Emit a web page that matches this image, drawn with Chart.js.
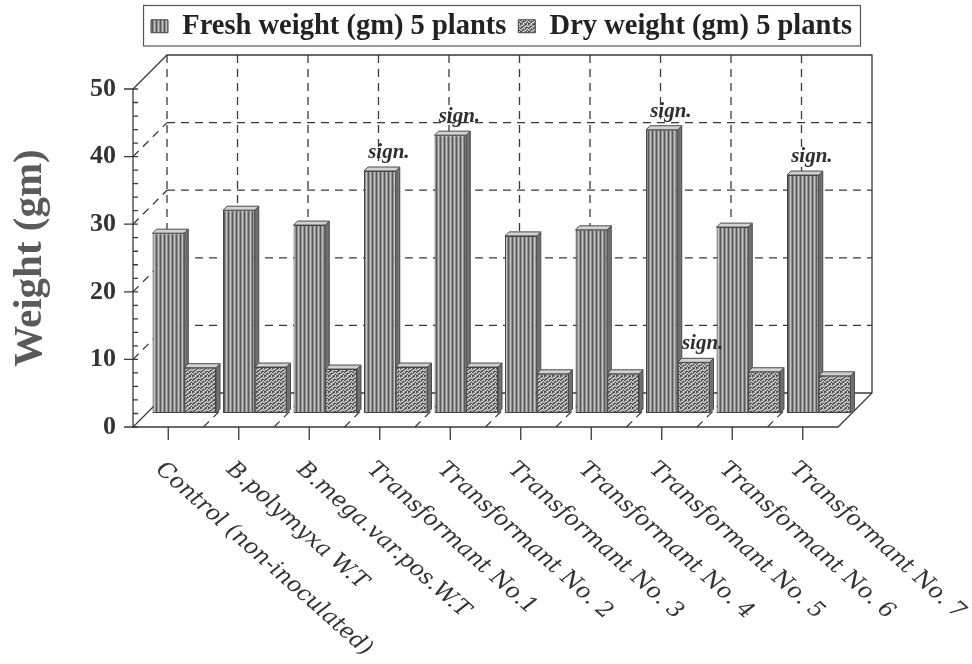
<!DOCTYPE html>
<html>
<head>
<meta charset="utf-8">
<script src="https://cdn.jsdelivr.net/npm/chart.js@4.4.1/dist/chart.umd.min.js"></script>
<style>
  html, body { margin: 0; padding: 0; background: #fff; }
  #wrap { width: 972px; height: 664px; }
</style>
</head>
<body>
<div id="wrap"><canvas id="c" width="972" height="664"></canvas></div>
<script>
// ---- data ----
const categories = [
  'Control (non-inoculated)', 'B.polymyxa W.T', 'B.mega.var.pos.W.T',
  'Transformant No.1', 'Transformant No. 2', 'Transformant No. 3',
  'Transformant No. 4', 'Transformant No. 5', 'Transformant No. 6',
  'Transformant No. 7'
];
const freshWeight = [26.6, 30.0, 27.8, 35.8, 41.1, 26.2, 27.1, 41.9, 27.5, 35.2];
const dryWeight   = [6.7, 6.8, 6.5, 6.8, 6.8, 5.8, 5.8, 7.5, 6.1, 5.5];
const freshSignificant = [false, false, false, true, true, false, false, true, false, true];
const drySignificant   = [false, false, false, false, false, false, false, true, false, false];
const weightTicks = [0, 10, 20, 30, 40, 50];
const seriesNames = ['Fresh weight (gm) 5 plants', 'Dry weight (gm) 5 plants'];

// ---- geometry of the 3-D box ----
const CANVAS_W = 972, CANVAS_H = 664;
const PLOT = { left: 149, right: 854, top: 89, bottom: 427 };  // plane the bars stand in (x) / front axis (y)
const DEPTH = 34;        // front edge -> back wall, px in x and y
const BAR_DX = 16;       // bar fronts sit this far right of the front edge
const BAR_DY = 14;       // ... and this far above it
const BAR_D = 4;         // thickness of the top/side faces of each bar
const LEGEND_WIDEN = 60; // legend row may run this far past the plot on each side
const LABEL_ANGLE = 41.5 * Math.PI / 180;
const pxPerUnit = (PLOT.bottom - PLOT.top) / (weightTicks[weightTicks.length - 1] - weightTicks[0]);
const barAxisMin = -BAR_DY / pxPerUnit;

const SERIF = '"Liberation Serif", "Times New Roman", serif';

// ---- fill patterns ----
const canvas = document.getElementById('c');
const mainCtx = canvas.getContext('2d');
function makePattern(rows, palette) {
  const t = document.createElement('canvas');
  t.width = rows[0].length; t.height = rows.length;
  const g = t.getContext('2d');
  rows.forEach((r, y) => [...r].forEach((ch, x) => {
    g.fillStyle = palette[ch]; g.fillRect(x, y, 1, 1);
  }));
  return mainCtx.createPattern(t, 'repeat');
}
const freshFill = makePattern(['2101'], { '0': '#c4c4c4', '1': '#8e8e8e', '2': '#5a5a5a' });
const dryFill = makePattern([
  '21101220',
  '10012101',
  '01220010',
  '12101122',
  '21010210',
  '01122101',
  '10210012',
  '22101120'
], { '0': '#dadada', '1': '#8a8a8a', '2': '#4c4c4c' });

// ---- drawing helpers for the box, bar faces and labels ----
function frontX(chart, k) {          // k-th category boundary on the front edge
  const xs = chart.scales.x;
  const w = (xs.right - xs.left) / categories.length;
  return xs.left - BAR_DX + k * w;
}
function frontY(chart, v) { return chart.scales.y.getPixelForValue(v); }

function drawRoom(chart) {
  const ctx = chart.ctx;
  const n = categories.length;
  const x0 = frontX(chart, 0), x1 = frontX(chart, n);
  const y0 = frontY(chart, weightTicks[0]);
  const yTop = frontY(chart, weightTicks[weightTicks.length - 1]);
  ctx.save();
  ctx.strokeStyle = '#3a3a3a';
  ctx.lineWidth = 1.3;

  // dashed grid on back wall, side wall and floor
  ctx.setLineDash([8, 6]);
  ctx.beginPath();
  weightTicks.slice(1, -1).forEach(v => {
    const y = frontY(chart, v);
    ctx.moveTo(x0, y); ctx.lineTo(x0 + DEPTH, y - DEPTH);
    ctx.moveTo(x0 + DEPTH, y - DEPTH); ctx.lineTo(x1 + DEPTH, y - DEPTH);
  });
  for (let k = 1; k < n; k++) {
    const x = frontX(chart, k);
    ctx.moveTo(x + DEPTH, yTop - DEPTH); ctx.lineTo(x + DEPTH, y0 - DEPTH);
    ctx.moveTo(x, y0); ctx.lineTo(x + DEPTH, y0 - DEPTH);
  }
  ctx.moveTo(x0 + DEPTH, yTop - DEPTH); ctx.lineTo(x0 + DEPTH, y0 - DEPTH);
  ctx.stroke();

  // solid outline
  ctx.setLineDash([]);
  ctx.beginPath();
  ctx.moveTo(x0, yTop); ctx.lineTo(x0 + DEPTH, yTop - DEPTH); ctx.lineTo(x1 + DEPTH, yTop - DEPTH);
  ctx.lineTo(x1 + DEPTH, y0 - DEPTH); ctx.lineTo(x1, y0); ctx.lineTo(x0, y0); ctx.lineTo(x0 + DEPTH, y0 - DEPTH);
  ctx.lineTo(x1 + DEPTH, y0 - DEPTH);
  // front value axis
  ctx.moveTo(x0, y0); ctx.lineTo(x0, yTop);
  ctx.stroke();

  // value axis ticks: major outward, minor inward
  ctx.beginPath();
  weightTicks.forEach(v => { const y = frontY(chart, v); ctx.moveTo(x0 - 9, y); ctx.lineTo(x0, y); });
  for (let v = weightTicks[0]; v <= weightTicks[weightTicks.length - 1]; v += 2) {
    const y = frontY(chart, v); ctx.moveTo(x0, y); ctx.lineTo(x0 + 5, y);
  }
  // category ticks under the floor
  for (let k = 0; k < n; k++) {
    const x = (frontX(chart, k) + frontX(chart, k + 1)) / 2;
    ctx.moveTo(x, y0); ctx.lineTo(x, y0 + 13);
  }
  ctx.stroke();
  ctx.restore();
}

function drawBarFaces(chart) {
  const ctx = chart.ctx;
  ctx.save();
  ctx.strokeStyle = '#4a4a4a';
  ctx.lineWidth = 1;
  chart.data.datasets.forEach((ds, di) => {
    chart.getDatasetMeta(di).data.forEach(b => {
      const l = b.x - b.width / 2, r = b.x + b.width / 2, t = b.y, bt = b.base;
      ctx.beginPath();
      ctx.moveTo(r, t); ctx.lineTo(r + BAR_D, t - BAR_D); ctx.lineTo(r + BAR_D, bt - BAR_D); ctx.lineTo(r, bt);
      ctx.closePath();
      ctx.fillStyle = '#707070'; ctx.fill(); ctx.stroke();
      ctx.beginPath();
      ctx.moveTo(l, t); ctx.lineTo(l + BAR_D, t - BAR_D); ctx.lineTo(r + BAR_D, t - BAR_D); ctx.lineTo(r, t);
      ctx.closePath();
      ctx.fillStyle = '#d2d2d2'; ctx.fill(); ctx.stroke();
    });
  });
  ctx.restore();
}

function drawSignificance(chart) {
  const ctx = chart.ctx;
  ctx.save();
  ctx.font = 'italic bold 21px ' + SERIF;
  ctx.fillStyle = '#2e2e2e';
  ctx.textAlign = 'center';
  ctx.textBaseline = 'alphabetic';
  [freshSignificant, drySignificant].forEach((flags, di) => {
    chart.getDatasetMeta(di).data.forEach((b, i) => {
      if (flags[i]) ctx.fillText('sign.', b.x + 9, b.y - 13);
    });
  });
  ctx.restore();
}

function drawCategoryLabels(chart) {
  const ctx = chart.ctx;
  const y0 = frontY(chart, weightTicks[0]);
  ctx.save();
  ctx.font = 'italic 22.5px "DejaVu Serif", serif';
  ctx.fillStyle = '#333';
  ctx.textAlign = 'left';
  ctx.textBaseline = 'top';
  chart.data.labels.forEach((t, i) => {
    const x = (frontX(chart, i) + frontX(chart, i + 1)) / 2 - 2;
    ctx.save();
    ctx.translate(x, y0 + 31);
    ctx.rotate(LABEL_ANGLE);
    ctx.fillText(t, 0, 0);
    ctx.restore();
  });
  ctx.restore();
}

function drawLegendFrame(chart) {
  const hb = chart.legend && chart.legend.legendHitBoxes;
  if (!hb || !hb.length) return;
  const first = hb[0], last = hb[hb.length - 1];
  const ctx = chart.ctx;
  ctx.save();
  ctx.strokeStyle = '#555';
  ctx.lineWidth = 1.2;
  ctx.strokeRect(first.left - 7.5, first.top - 6.5, last.left + last.width - first.left + 16, first.height + 12);
  ctx.restore();
}

const boxPlugin = {
  id: 'box3d',
  beforeLayout(chart) {
    // one legend row; legend block reaches down to the top of the plot
    const lg = chart.legend;
    if (lg && !lg._fixedHeight) {
      const fit = lg.fit;
      lg.fit = function () {
        this.maxWidth = PLOT.right - PLOT.left + 2 * LEGEND_WIDEN;
        fit.call(this);
        this.height = PLOT.top;
      };
      lg._fixedHeight = true;
    }
  },
  afterLayout(chart) {
    const lg = chart.legend;
    if (lg) {
      lg.left = PLOT.left - LEGEND_WIDEN;
      lg.right = PLOT.right + LEGEND_WIDEN;
      lg.width = lg.right - lg.left;
    }
  },
  beforeDatasetsDraw(chart) { drawRoom(chart); drawBarFaces(chart); },
  afterDatasetsDraw(chart) { drawSignificance(chart); drawCategoryLabels(chart); drawLegendFrame(chart); }
};

new Chart(canvas, {
  type: 'bar',
  data: {
    labels: categories,
    datasets: [
      { label: seriesNames[0], data: freshWeight, backgroundColor: freshFill, borderColor: '#444', borderWidth: 1,
        borderSkipped: false, yAxisID: 'yb', categoryPercentage: 0.9, barPercentage: 1.0 },
      { label: seriesNames[1], data: dryWeight, backgroundColor: dryFill, borderColor: '#444', borderWidth: 1,
        borderSkipped: false, yAxisID: 'yb', categoryPercentage: 0.9, barPercentage: 1.0 }
    ]
  },
  options: {
    responsive: false,
    animation: false,
    devicePixelRatio: 1,
    layout: { padding: { left: 0, right: CANVAS_W - PLOT.right, top: 0, bottom: 0 } },
    plugins: {
      tooltip: { enabled: false },
      legend: {
        position: 'top',
        fullSize: false,
        labels: {
          font: { family: SERIF, size: 28.5, weight: 'bold' },
          color: '#222',
          boxWidth: 17,
          boxHeight: 13,
          padding: 12
        }
      }
    },
    scales: {
      x: {
        type: 'category',
        offset: true,
        grid: { display: false, drawTicks: false },
        border: { display: false },
        ticks: { display: false },
        afterFit(s) { s.height = CANVAS_H - PLOT.bottom; }
      },
      y: {
        position: 'left',
        min: weightTicks[0],
        max: weightTicks[weightTicks.length - 1],
        afterBuildTicks(s) { s.ticks = weightTicks.map(v => ({ value: v })); },
        grid: { display: false, drawTicks: false },
        border: { display: false },
        ticks: {
          padding: 33,
          color: '#333',
          font: { family: SERIF, size: 26, weight: 'bold' }
        },
        title: {
          display: true,
          text: 'Weight (gm)',
          color: '#5a5a5a',
          font: { family: SERIF, size: 41, weight: 'bold' },
          padding: { top: 6, bottom: 0 }
        },
        afterFit(s) { s.width = PLOT.left; }
      },
      yb: {
        display: false,
        min: barAxisMin,
        max: weightTicks[weightTicks.length - 1] + barAxisMin
      }
    }
  },
  plugins: [boxPlugin]
});
</script>
</body>
</html>
